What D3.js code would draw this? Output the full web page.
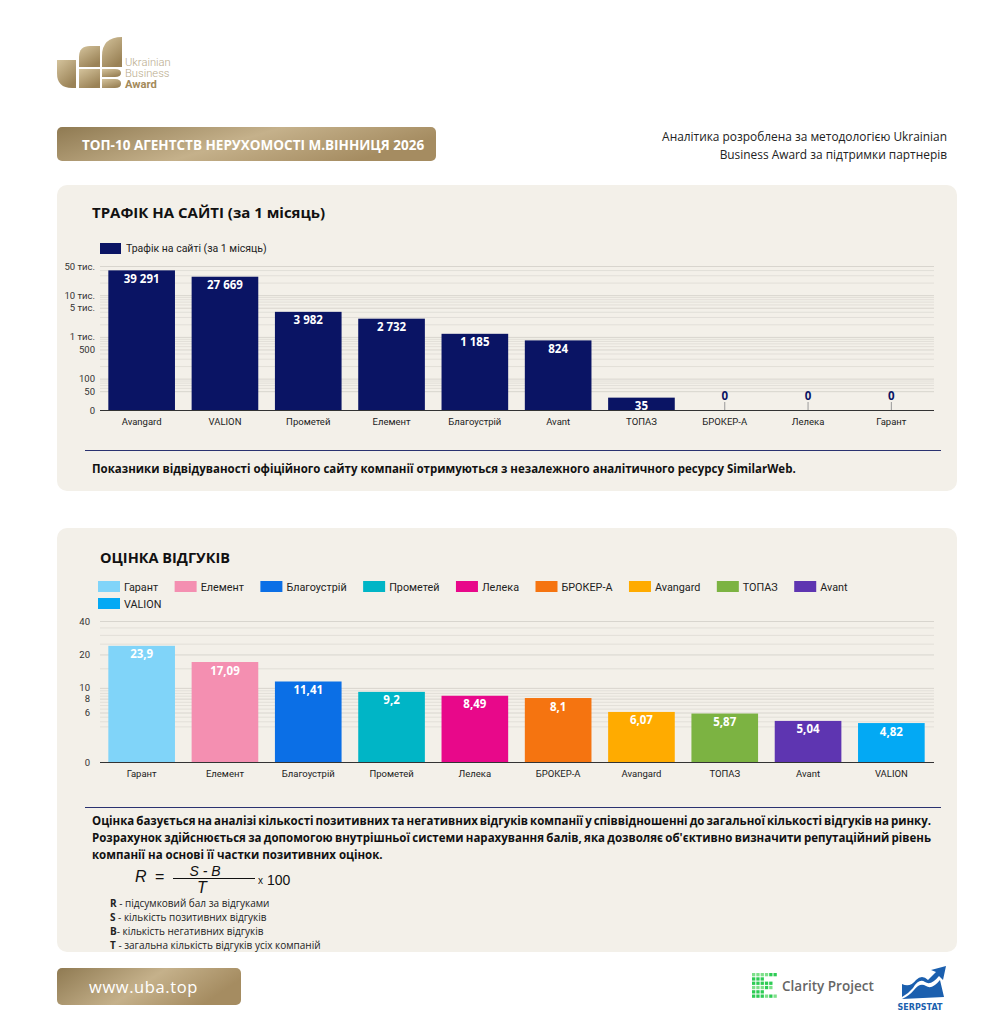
<!DOCTYPE html>
<html>
<head>
<meta charset="utf-8">
<script src="https://cdn.jsdelivr.net/npm/d3@7"></script>
<style>
  body { margin: 0; background: #fff; }
  svg { display: block; }
</style>
</head>
<body>
<svg id="page" width="1004" height="1024"></svg>
<script>
// ---- data ----
const trafficCompanies = ['Avangard', 'VALION', 'Прометей', 'Елемент', 'Благоустрій', 'Avant', 'ТОПАЗ', 'БРОКЕР-А', 'Лелека', 'Гарант'];
const trafficValues = [39291, 27669, 3982, 2732, 1185, 824, 35, 0, 0, 0];
const trafficTicks = [0, 50, 100, 500, 1000, 5000, 10000, 50000];
const trafficTickLabels = ['0', '50', '100', '500', '1 тис.', '5 тис.', '10 тис.', '50 тис.'];
const trafficGrid = [60, 70, 80, 90, 200, 300, 400, 600, 700, 800, 900,
                     2000, 3000, 4000, 6000, 7000, 8000, 9000, 20000, 30000, 40000];

const reviewCompanies = ['Гарант', 'Елемент', 'Благоустрій', 'Прометей', 'Лелека', 'БРОКЕР-А', 'Avangard', 'ТОПАЗ', 'Avant', 'VALION'];
const reviewValues = [23.9, 17.09, 11.41, 9.2, 8.49, 8.1, 6.07, 5.87, 5.04, 4.82];
const reviewColors = ['#80d4f9', '#f48fb1', '#0b6fe6', '#00b5c6', '#e8088a', '#f57410', '#ffab00', '#7cb342', '#5e35b1', '#03a9f4'];
const reviewTicks = [0, 6, 8, 10, 20, 40];
const reviewGrid = [4.5, 5, 5.5, 6.5, 7, 7.5, 8.5, 9, 9.5, 15, 25, 30, 35];

const reviewNote = [
  'Оцінка базується на аналізі кількості позитивних та негативних відгуків компанії у співвідношенні до загальної кількості відгуків на ринку.',
  'Розрахунок здійснюється за допомогою внутрішньої системи нарахування балів, яка дозволяє об\'єктивно визначити репутаційний рівень',
  'компанії на основі її частки позитивних оцінок.'
];
const formulaLegend = [
  ['R', ' - підсумковий бал за відгуками'],
  ['S', ' - кількість позитивних відгуків'],
  ['B', '-  кількість негативних відгуків'],
  ['T', ' - загальна кількість відгуків усіх компаній']
];

const uaLocale = d3.formatLocale({decimal: ',', thousands: '\u00a0', grouping: [3], currency: ['', '']});
const fmtInt = uaLocale.format(',');
const fmtDec = uaLocale.format('~g');

const page = d3.select('#page');
const defs = page.append('defs');

// gold gradients
const gold = defs.append('linearGradient').attr('id', 'gold').attr('x1', 0).attr('x2', 1).attr('y1', 0).attr('y2', 0.3);
gold.append('stop').attr('offset', 0).attr('stop-color', '#8f7a52');
gold.append('stop').attr('offset', 0.55).attr('stop-color', '#c5b18b');
gold.append('stop').attr('offset', 1).attr('stop-color', '#a58c61');
const goldV = defs.append('linearGradient').attr('id', 'goldV').attr('x1', 0).attr('x2', 0.6).attr('y1', 0).attr('y2', 1);
goldV.append('stop').attr('offset', 0).attr('stop-color', '#d4c39c');
goldV.append('stop').attr('offset', 1).attr('stop-color', '#9a8256');

// ---- header ----
const logo = page.append('g').attr('class', 'logo').attr('fill', 'url(#goldV)');
logo.append('path').attr('d', 'M57,60 H76 V88 H72 Q57,88 57,73 Z');
logo.append('path').attr('d', 'M79,67 V57 Q79,46 90,46 H100 V67 Z');
logo.append('path').attr('d', 'M79,69 H100 V88 H79 Z');
logo.append('path').attr('d', 'M102,67 V56 Q102,37 122,37 V67 Z');
logo.append('path').attr('d', 'M102,69 H115 Q121,69 121,73 Q121,77 115,77 H102 Z');
logo.append('path').attr('d', 'M102,79 H115 Q121,79 121,83.5 Q121,88 115,88 H102 Z');
const logoText = page.append('g').attr('font-family', 'Roboto, sans-serif').attr('font-size', 11.2);
logoText.append('text').attr('x', 125).attr('y', 66).attr('fill', '#b9ab8c').attr('font-weight', 300).text('Ukrainian');
logoText.append('text').attr('x', 125).attr('y', 77).attr('fill', '#b9ab8c').attr('font-weight', 300).text('Business');
logoText.append('text').attr('x', 125).attr('y', 88).attr('fill', '#a38a5a').attr('font-weight', 700).text('Award');

page.append('rect').attr('x', 57).attr('y', 127).attr('width', 379).attr('height', 34).attr('rx', 5).attr('fill', 'url(#gold)');
page.append('text').attr('x', 82).attr('y', 149.5)
    .attr('font-family', '"Open Sans", sans-serif').attr('font-weight', 700).attr('font-size', 13.5)
    .attr('fill', '#fff').text('ТОП-10 АГЕНТСТВ НЕРУХОМОСТІ М.ВІННИЦЯ 2026');

const headNote = page.append('g').attr('font-family', '"Open Sans", sans-serif').attr('font-size', 11.9)
    .attr('fill', '#222').attr('text-anchor', 'end');
headNote.append('text').attr('x', 947).attr('y', 141).text('Аналітика розроблена за методологією Ukrainian');
headNote.append('text').attr('x', 947).attr('y', 159).text('Business Award за підтримки партнерів');

// ---- panels ----
page.append('rect').attr('x', 57).attr('y', 185).attr('width', 900).attr('height', 306).attr('rx', 10).attr('fill', '#f3f0e9');
page.append('rect').attr('x', 57).attr('y', 528).attr('width', 900).attr('height', 424).attr('rx', 10).attr('fill', '#f3f0e9');

// ---- chart 1: traffic ----
const chart1 = page.append('g').attr('class', 'traffic');
chart1.append('text').attr('x', 92).attr('y', 218)
    .attr('font-family', '"Open Sans", sans-serif').attr('font-weight', 700).attr('font-size', 15)
    .attr('fill', '#111').text('ТРАФІК НА САЙТІ (за 1 місяць)');
chart1.append('rect').attr('x', 100).attr('y', 243).attr('width', 21).attr('height', 11).attr('fill', '#0a1464');
chart1.append('text').attr('x', 126).attr('y', 252)
    .attr('font-family', 'Roboto, sans-serif').attr('font-size', 10.5).attr('fill', '#222')
    .text('Трафік на сайті (за 1 місяць)');

const x1 = d3.scaleBand().domain(trafficCompanies).range([100, 933]).paddingInner(0.2).paddingOuter(0.1);
const y1 = d3.scaleLog().domain([17.7, 50000]).range([410, 266]).clamp(true);
const base1 = y1.range()[0];

const grid1 = chart1.append('g').attr('transform', 'translate(100,0)')
    .call(d3.axisLeft(y1).tickValues(trafficGrid).tickSize(-834).tickFormat(''));
grid1.select('.domain').remove();
grid1.selectAll('line').attr('stroke', '#e2dfd8');
const gridMajor1 = chart1.append('g').attr('transform', 'translate(100,0)')
    .call(d3.axisLeft(y1).tickValues(trafficTicks.filter(d => d > 0)).tickSize(-834).tickFormat(''));
gridMajor1.select('.domain').remove();
gridMajor1.selectAll('line').attr('stroke', '#d8d5ce');

const yAxis1 = chart1.append('g').attr('transform', 'translate(100,0)')
    .call(d3.axisLeft(y1).tickValues(trafficTicks).tickFormat((d, i) => trafficTickLabels[i]).tickSize(0).tickPadding(5));
yAxis1.select('.domain').remove();
yAxis1.selectAll('text').attr('font-family', 'Roboto, sans-serif').attr('font-size', 9.5).attr('fill', '#333');

chart1.selectAll('rect.bar').data(trafficValues.map((v, i) => ({name: trafficCompanies[i], v})).filter(d => d.v > 0))
    .join('rect').attr('class', 'bar')
    .attr('x', d => x1(d.name)).attr('width', x1.bandwidth())
    .attr('y', d => y1(d.v)).attr('height', d => base1 - y1(d.v))
    .attr('fill', '#0a1464');

chart1.selectAll('line.zero').data(trafficCompanies.filter((n, i) => trafficValues[i] === 0))
    .join('line').attr('class', 'zero')
    .attr('x1', d => x1(d) + x1.bandwidth() / 2).attr('x2', d => x1(d) + x1.bandwidth() / 2)
    .attr('y1', base1).attr('y2', base1 - 8).attr('stroke', '#999');

chart1.selectAll('text.val').data(trafficValues.map((v, i) => ({name: trafficCompanies[i], v})))
    .join('text').attr('class', 'val')
    .attr('x', d => x1(d.name) + x1.bandwidth() / 2)
    .attr('y', d => d.v > 0 ? y1(d.v) + 12.5 : base1 - 10)
    .attr('text-anchor', 'middle')
    .attr('font-family', '"Open Sans", sans-serif').attr('font-weight', 700).attr('font-size', 11.5)
    .attr('fill', d => d.v > 0 ? '#fff' : '#0a1464')
    .text(d => fmtInt(d.v));

const xAxis1 = chart1.append('g').attr('transform', `translate(0,${base1})`)
    .call(d3.axisBottom(x1).tickSize(0).tickPadding(8));
xAxis1.select('.domain').attr('stroke', '#333').attr('d', 'M100,0.5H934');
xAxis1.selectAll('text').attr('font-family', 'Roboto, sans-serif').attr('font-size', 9.5).attr('fill', '#222');

chart1.append('line').attr('x1', 85).attr('x2', 941).attr('y1', 450.5).attr('y2', 450.5).attr('stroke', '#2a3270');
chart1.append('text').attr('x', 92).attr('y', 473)
    .attr('font-family', '"Open Sans", sans-serif').attr('font-weight', 700).attr('font-size', 11.5).attr('fill', '#111')
    .text('Показники відвідуваності офіційного сайту компанії отримуються з незалежного аналітичного ресурсу SimilarWeb.');

// ---- chart 2: reviews ----
const chart2 = page.append('g').attr('class', 'reviews');
chart2.append('text').attr('x', 100).attr('y', 563)
    .attr('font-family', '"Open Sans", sans-serif').attr('font-weight', 700).attr('font-size', 14.5)
    .attr('fill', '#111').text('ОЦІНКА ВІДГУКІВ');

// legend, wrapped
const legend2 = chart2.append('g').attr('font-family', 'Roboto, sans-serif').attr('font-size', 10.8);
let lx = 98, ly = 581;
reviewCompanies.forEach((name, i) => {
  const item = legend2.append('g');
  item.append('rect').attr('width', 22).attr('height', 11).attr('fill', reviewColors[i]);
  const t = item.append('text').attr('x', 26).attr('y', 9.8).attr('fill', '#222').text(name);
  const w = 26 + t.node().getComputedTextLength();
  if (lx + w > 870) { lx = 98; ly += 17; }
  item.attr('transform', `translate(${lx},${ly})`);
  lx += w + 16.5;
});

const x2 = d3.scaleBand().domain(reviewCompanies).range([100, 933]).paddingInner(0.2).paddingOuter(0.1);
const y2 = d3.scaleLog().domain([2.15, 40]).range([762, 621]).clamp(true);
const base2 = y2.range()[0];

const grid2 = chart2.append('g').attr('transform', 'translate(100,0)')
    .call(d3.axisLeft(y2).tickValues(reviewGrid).tickSize(-834).tickFormat(''));
grid2.select('.domain').remove();
grid2.selectAll('line').attr('stroke', '#e2dfd8');
const gridMajor2 = chart2.append('g').attr('transform', 'translate(100,0)')
    .call(d3.axisLeft(y2).tickValues(reviewTicks.filter(d => d > 0)).tickSize(-834).tickFormat(''));
gridMajor2.select('.domain').remove();
gridMajor2.selectAll('line').attr('stroke', '#d8d5ce');

const yAxis2 = chart2.append('g').attr('transform', 'translate(100,0)')
    .call(d3.axisLeft(y2).tickValues(reviewTicks).tickFormat(d3.format('d')).tickSize(0).tickPadding(10));
yAxis2.select('.domain').remove();
yAxis2.selectAll('text').attr('font-family', 'Roboto, sans-serif').attr('font-size', 9.5).attr('fill', '#333');

chart2.selectAll('rect.bar').data(reviewValues.map((v, i) => ({name: reviewCompanies[i], v, c: reviewColors[i]})))
    .join('rect').attr('class', 'bar')
    .attr('x', d => x2(d.name)).attr('width', x2.bandwidth())
    .attr('y', d => y2(d.v)).attr('height', d => base2 - y2(d.v))
    .attr('fill', d => d.c);

chart2.selectAll('text.val').data(reviewValues.map((v, i) => ({name: reviewCompanies[i], v})))
    .join('text').attr('class', 'val')
    .attr('x', d => x2(d.name) + x2.bandwidth() / 2)
    .attr('y', d => y2(d.v) + 12.5)
    .attr('text-anchor', 'middle')
    .attr('font-family', '"Open Sans", sans-serif').attr('font-weight', 700).attr('font-size', 11.5)
    .attr('fill', '#fff')
    .text(d => fmtDec(d.v));

const xAxis2 = chart2.append('g').attr('transform', `translate(0,${base2})`)
    .call(d3.axisBottom(x2).tickSize(0).tickPadding(8));
xAxis2.select('.domain').attr('stroke', '#333').attr('d', 'M100,0.5H934');
xAxis2.selectAll('text').attr('font-family', 'Roboto, sans-serif').attr('font-size', 9.5).attr('fill', '#222');

chart2.append('line').attr('x1', 85).attr('x2', 941).attr('y1', 807.5).attr('y2', 807.5).attr('stroke', '#2a3270');

// justified note
const note = chart2.append('g').attr('font-family', '"Open Sans", sans-serif').attr('font-weight', 700)
    .attr('font-size', 11.5).attr('fill', '#111');
reviewNote.forEach((line, i) => {
  const t = note.append('text').attr('x', 92).attr('y', 825 + i * 17).text(line);
  if (i < reviewNote.length - 1) {
    const spaces = line.split(' ').length - 1;
    const extra = (839 - t.node().getComputedTextLength()) / spaces;
    t.attr('word-spacing', extra);
  }
});

// formula
const formula = chart2.append('g').attr('font-family', '"Liberation Sans", Arial, sans-serif').attr('fill', '#111');
formula.append('text').attr('x', 135).attr('y', 882).attr('font-size', 16).attr('font-style', 'italic').text('R');
formula.append('text').attr('x', 155).attr('y', 882).attr('font-size', 16).text('=');
formula.append('text').attr('x', 205).attr('y', 875.5).attr('font-size', 14).attr('font-style', 'italic').attr('text-anchor', 'middle').text('S - B');
formula.append('line').attr('x1', 173).attr('x2', 255).attr('y1', 878.5).attr('y2', 878.5).attr('stroke', '#111');
formula.append('text').attr('x', 202).attr('y', 893).attr('font-size', 16).attr('font-style', 'italic').attr('text-anchor', 'middle').text('T');
formula.append('text').attr('x', 258).attr('y', 884).attr('font-size', 10).text('x');
formula.append('text').attr('x', 267).attr('y', 885).attr('font-size', 14).text('100');

const defsText = chart2.append('g').attr('font-family', '"Open Sans", sans-serif').attr('font-size', 10).attr('fill', '#222');
formulaLegend.forEach((d, i) => {
  const t = defsText.append('text').attr('x', 110).attr('y', 907 + i * 14);
  t.append('tspan').attr('font-weight', 700).text(d[0]);
  t.append('tspan').text(d[1]);
});

// ---- footer ----
page.append('rect').attr('x', 57).attr('y', 968).attr('width', 184).attr('height', 37).attr('rx', 5).attr('fill', 'url(#gold)');
page.append('text').attr('x', 89).attr('y', 993)
    .attr('font-family', '"Open Sans", sans-serif').attr('font-size', 16.5).attr('letter-spacing', 0.6)
    .attr('fill', '#fff').text('www.uba.top');

// Clarity Project mark: small green square grid
const clarity = page.append('g').attr('transform', 'translate(752,973)');
const cells = d3.cross(d3.range(6), d3.range(6)).filter(([c, r]) => !(c > 2 && (r === 1 || r === 4)) && !(c === 5 && r > 1 && r < 4));
clarity.selectAll('rect').data(cells).join('rect')
    .attr('x', d => d[0] * 4.3).attr('y', d => d[1] * 4.3).attr('width', 3.3).attr('height', 3.3)
    .attr('fill', (d, i) => i % 3 === 0 ? '#7ee08a' : '#2ecc55');
page.append('text').attr('x', 782).attr('y', 991)
    .attr('font-family', '"Open Sans", sans-serif').attr('font-weight', 600).attr('font-size', 13.5)
    .attr('fill', '#666').text('Clarity Project');

// Serpstat mark
const serp = page.append('g');
serp.append('path').attr('d', 'M902,997 L902,984 Q910,988 916,980 Q922,974 928,980 L936,972 L931,970 L946,966 L943,980 L939,976 Q931,986 925,982 Q919,978 913,988 Q908,994 902,997 Z')
    .attr('fill', '#1b5fae');
serp.append('path').attr('d', 'M902,999 Q909,996 914,990 Q920,982 926,986 Q932,990 940,980 L944,997 Z').attr('fill', '#1b5fae');
serp.append('text').attr('x', 920).attr('y', 1010).attr('text-anchor', 'middle')
    .attr('font-family', '"DejaVu Sans", sans-serif').attr('font-weight', 700).attr('font-size', 8)
    .attr('fill', '#1b5fae').text('SERPSTAT');
</script>
</body>
</html>
